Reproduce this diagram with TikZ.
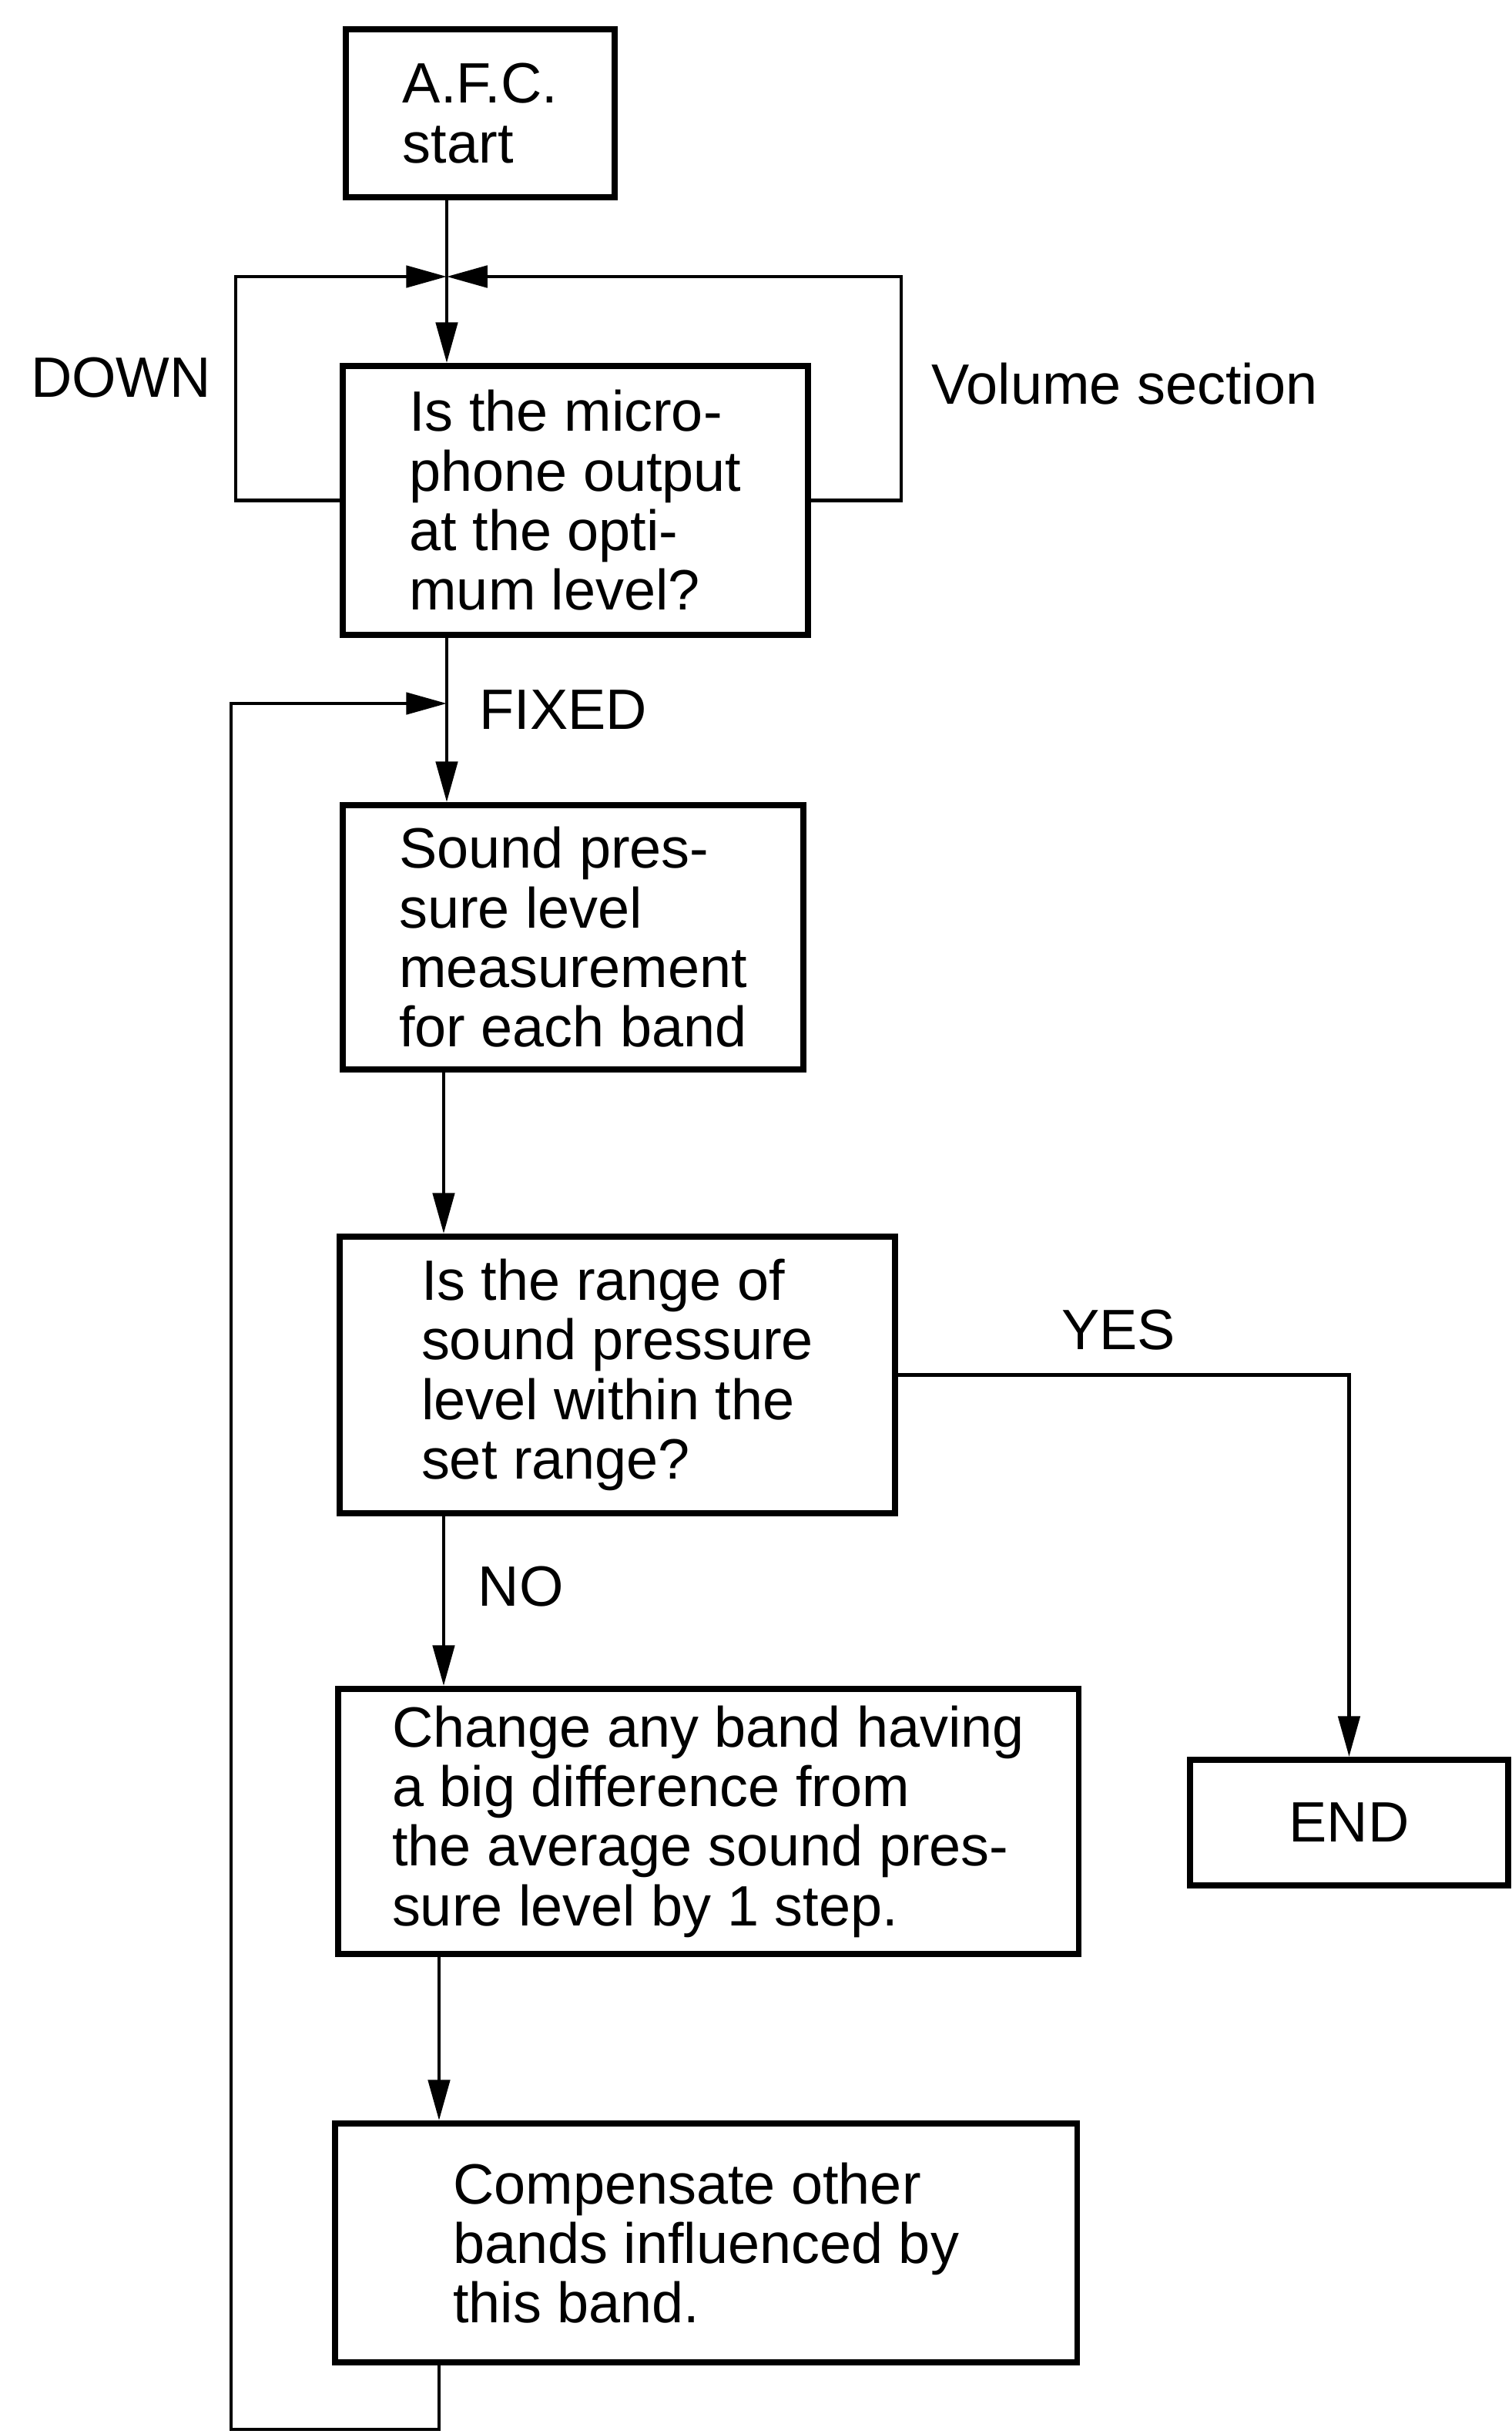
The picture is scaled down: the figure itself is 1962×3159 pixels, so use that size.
\documentclass[tikz,border=0pt]{standalone}
\usepackage{fontspec}
\setmainfont{Liberation Sans}
\usetikzlibrary{arrows.meta}
\begin{document}
\begin{tikzpicture}[x=0.01cm,y=-0.01cm,
  box/.style={draw, line width=2.2pt, rectangle, anchor=north west, align=left, inner sep=0pt, font=\fontsize{21}{22}\selectfont},
  conn/.style={line width=1.3pt},
  arr/.style={conn, -{Triangle[length=15pt,width=8pt]}},
  lbl/.style={font=\fontsize{21}{22}\selectfont, inner sep=0pt}]
\useasboundingbox[fill=white] (0,0) rectangle (1962,3159);
% boxes
\node[box, minimum width=3.49cm, minimum height=2.18cm] (afc) at (445,34) {A.F.C.\\start};
\node[box, minimum width=6.04cm, minimum height=3.49cm] (opt) at (441,471) {Is the micro-\\phone output\\at the opti-\\mum level?};
\node[box, minimum width=5.98cm, minimum height=3.43cm] (meas) at (441,1041) {Sound pres-\\sure level\\measurement\\for each band};
\node[box, minimum width=7.21cm, minimum height=3.59cm] (rng) at (437,1601) {Is the range of\\sound pressure\\level within the\\set range?};
\node[box, minimum width=4.13cm, minimum height=1.63cm, align=center] (end) at (1541,2280) {END};
\node[box, minimum width=9.61cm, minimum height=3.44cm] (chg) at (435,2188) {Change any band having\\a big difference from\\the average sound pres-\\sure level by 1 step.};
\node[box, minimum width=9.63cm, minimum height=3.10cm] (comp) at (431,2752) {Compensate other\\bands influenced by\\this band.};
% labels
\node[lbl] (down) at (157,490) {DOWN};
\node[lbl, anchor=west] (vol) at (1209,498) {Volume section};
\node[lbl, anchor=west] (fixed) at (622,921) {FIXED};
\node[lbl] (yes) at (1452,1726) {YES};
\node[lbl, anchor=west] (no) at (620,2059) {NO};
% helper coordinates
\coordinate (m1) at (580,0);
\coordinate (m2) at (576,0);
\coordinate (m3) at (570,0);
\coordinate (j) at (580,359);
\coordinate (dl) at (306,0);
\coordinate (dr) at (1170,0);
\coordinate (fx) at (580,913);
\coordinate (lb) at (300,3153);
% connectors
\draw[conn] (m1 |- afc.south) -- (j);
\draw[arr] (j) -- (m1 |- opt.north);
\draw[arr] (opt.west) -- (opt.west -| dl) -- (dl |- j) -- (j);
\draw[arr] (opt.east) -- (opt.east -| dr) -- (dr |- j) -- (j);
\draw[arr] (m1 |- opt.south) -- (m1 |- meas.north);
\draw[arr] (m2 |- meas.south) -- (m2 |- rng.north);
\draw[arr] (rng.east) -- (rng.east -| end.north) -- (end.north);
\draw[arr] (m2 |- rng.south) -- (m2 |- chg.north);
\draw[arr] (m3 |- chg.south) -- (m3 |- comp.north);
\draw[arr] (m3 |- comp.south) -- (m3 |- lb) -- (lb) -- (lb |- fx) -- (fx);
\end{tikzpicture}
\end{document}
